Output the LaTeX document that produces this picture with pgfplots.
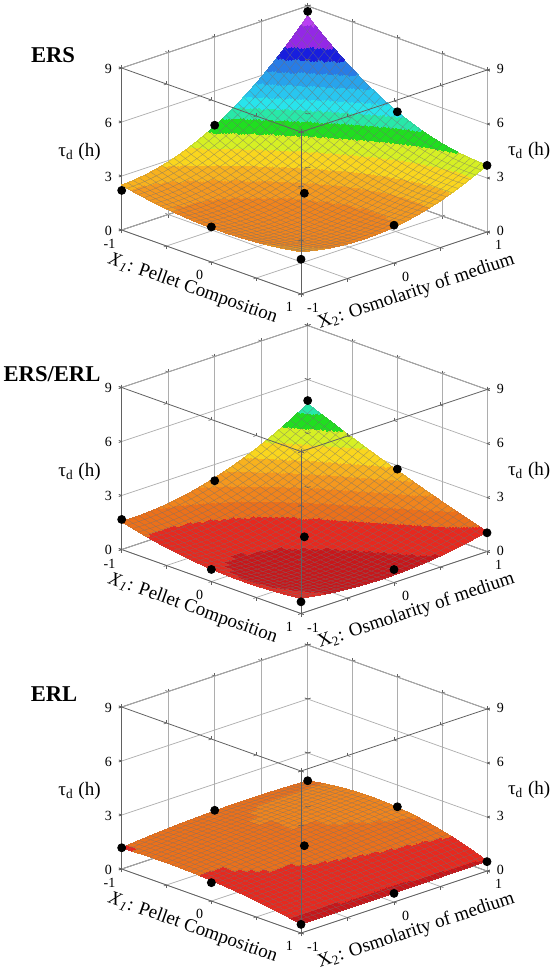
\documentclass[border=0pt]{standalone}
\usepackage{pgfplots}
\pgfplotsset{compat=1.18}
\usepgfplotslibrary{patchplots}
\usepackage{fontspec}
\setmainfont{Liberation Serif}
\definecolor{gridc}{gray}{0.68}
\definecolor{boxc}{gray}{0.38}
\pgfplotsset{
  colormap={meshgray}{color=(black!55) color=(black!55)},
  colormap={zmap}{
      rgb255(0cm)=(200,22,26)
      rgb255(0.6cm)=(232,40,30)
      rgb255(1.2cm)=(236,112,26)
      rgb255(1.6cm)=(241,132,28)
      rgb255(2.0cm)=(245,152,30)
      rgb255(2.4cm)=(248,178,30)
      rgb255(2.8cm)=(250,214,30)
      rgb255(3.3cm)=(214,240,36)
      rgb255(3.8cm)=(32,222,32)
      rgb255(4.3cm)=(40,232,168)
      rgb255(4.7cm)=(40,228,236)
      rgb255(5.1cm)=(40,198,240)
      rgb255(5.6cm)=(40,164,236)
      rgb255(6.1cm)=(40,124,230)
      rgb255(6.6cm)=(24,30,222)
      rgb255(7.1cm)=(148,40,230)
      rgb255(8.0cm)=(186,64,242)
      rgb255(9cm)=(186,64,242)
  },
  panel/.style={
    x={(44.83pt,-16pt)}, y={(46.5pt,15.5pt)}, z={(0pt,9pt)},
    xmin=-1,xmax=1,ymin=-1,ymax=1,zmin=0,zmax=9,
    anchor=origin,
    clip=false,
    xtick={-1,-0.5,0,0.5,1}, xticklabels={-1,,0,,1},
    ytick={-1,-0.5,0,0.5,1}, yticklabels={-1,,0,,1},
    ztick={0,3,6,9}, zticklabels={0,3,6,9},
    tick align=outside, major tick length=1.5pt,
    tick style={boxc, line width=0.3pt},
    tick label style={font=\fontsize{7}{8}\selectfont},
    point meta min=0, point meta max=9,
    colormap name=zmap,
    colormap access=piecewise constant,
  },
  mainpanel/.style={
    panel,
    3d box=complete,
    grid=major,
    major grid style={gridc, line width=0.35pt},
    axis line style={boxc, line width=0.4pt},
    xlabel={\textit{X}\textsubscript{\textit{1}}: Pellet Composition},
    ylabel={X\textsubscript{2}: Osmolarity of medium},
    zlabel={τ\textsubscript{d} (h)},
    every axis x label/.style={at={(axis cs:0.337,-1.523,0)}, anchor=center, rotate=-19.6, font=\fontsize{9.5}{11}\selectfont},
    every axis y label/.style={at={(axis cs:1.58,-0.32,0)}, anchor=center, rotate=18.4, font=\fontsize{9.5}{11}\selectfont},
    every axis z label/.style={at={(rel axis cs:0,0,0.48)}, anchor=east, xshift=-7pt, font=\fontsize{9.5}{11}\selectfont},
  },
  rightpanel/.style={
    panel,
    hide x axis, hide y axis,
    axis line style={draw=none},
    zticklabel pos=right,
    zlabel={τ\textsubscript{d} (h)},
    every axis z label/.style={at={(rel axis cs:1,1,0.5)}, anchor=west, xshift=7pt, font=\fontsize{9.5}{11}\selectfont},
  },
  surfstyle/.style={patch, patch type=biquadratic, shader=interp, patch refines=4,
    point meta=z},
  meshstyle/.style={patch, patch type=biquadratic, mesh, patch refines=5,
    point meta=z, colormap name=meshgray, colormap access=map, line width=0.12pt, opacity=0.45},
  dotstyle/.style={only marks, mark=*, mark size=2pt, black, point meta=none},
}
\begin{document}
\begin{tikzpicture}
\useasboundingbox (0,0) rectangle (275pt,-485pt);
% ---------------- ERS ----------------
\begin{axis}[mainpanel, at={(152.175pt,-115.5pt)}]
\addplot3[surfstyle] coordinates {
(-1,-1,2.5) (1,-1,2.35) (1,1,3.72) (-1,1,8.45)
(0,-1,1.9) (1,0,2.0) (0,1,4.9) (-1,0,4.05)
(0,0,2.2)
};
\addplot3[meshstyle] coordinates {
(-1,-1,2.5) (1,-1,2.35) (1,1,3.72) (-1,1,8.45)
(0,-1,1.9) (1,0,2.0) (0,1,4.9) (-1,0,4.05)
(0,0,2.2)
};
\addplot3[dotstyle] coordinates {
(-1,-1,2.2) (0,-1,1.95) (1,-1,1.93) (-1,0,4.1) (0,0,2.1) (1,0,2.1) (-1,1,8.7) (0,1,4.9) (1,1,3.7)
};
\end{axis}
\begin{axis}[rightpanel, at={(152.175pt,-115.5pt)}]
\end{axis}
\node[anchor=base, font=\bfseries\fontsize{11.3}{13}\selectfont] at (26.5pt,-31pt) {ERS};
% ---------------- ERS/ERL ----------------
\begin{axis}[mainpanel, at={(152.175pt,-275.25pt)}]
\addplot3[surfstyle] coordinates {
(-1,-1,1.55) (1,-1,0.85) (1,1,1.1) (-1,1,4.65)
(0,-1,0.7) (1,0,0.42) (0,1,2.72) (-1,0,2.25)
(0,0,0.85)
};
\addplot3[meshstyle] coordinates {
(-1,-1,1.55) (1,-1,0.85) (1,1,1.1) (-1,1,4.65)
(0,-1,0.7) (1,0,0.42) (0,1,2.72) (-1,0,2.25)
(0,0,0.85)
};
\addplot3[dotstyle] coordinates {
(-1,-1,1.67) (0,-1,0.67) (1,-1,0.65) (-1,0,2.1) (0,0,0.76) (1,0,0.72) (-1,1,4.83) (0,1,2.8) (1,1,1.04)
};
\end{axis}
\begin{axis}[rightpanel, at={(152.175pt,-275.25pt)}]
\end{axis}
\node[anchor=base, font=\bfseries\fontsize{11.3}{13}\selectfont] at (26pt,-190.75pt) {ERS/ERL};
% ---------------- ERL ----------------
\begin{axis}[mainpanel, at={(152.175pt,-435pt)}]
\addplot3[surfstyle] coordinates {
(-1,-1,1.17) (1,-1,0.5) (1,1,0.55) (-1,1,1.45)
(0,-1,1.15) (1,0,0.5) (0,1,1.75) (-1,0,1.5)
(0,0,1.45)
};
\addplot3[meshstyle] coordinates {
(-1,-1,1.17) (1,-1,0.5) (1,1,0.55) (-1,1,1.45)
(0,-1,1.15) (1,0,0.5) (0,1,1.75) (-1,0,1.5)
(0,0,1.45)
};
\addplot3[dotstyle] coordinates {
(-1,-1,1.18) (0,-1,1.02) (1,-1,0.48) (-1,0,1.54) (0,0,1.35) (1,0,0.48) (-1,1,1.46) (0,1,1.79) (1,1,0.52)
};
\end{axis}
\begin{axis}[rightpanel, at={(152.175pt,-435pt)}]
\end{axis}
\node[anchor=base, font=\bfseries\fontsize{11.3}{13}\selectfont] at (27pt,-350.5pt) {ERL};
\end{tikzpicture}
\end{document}
